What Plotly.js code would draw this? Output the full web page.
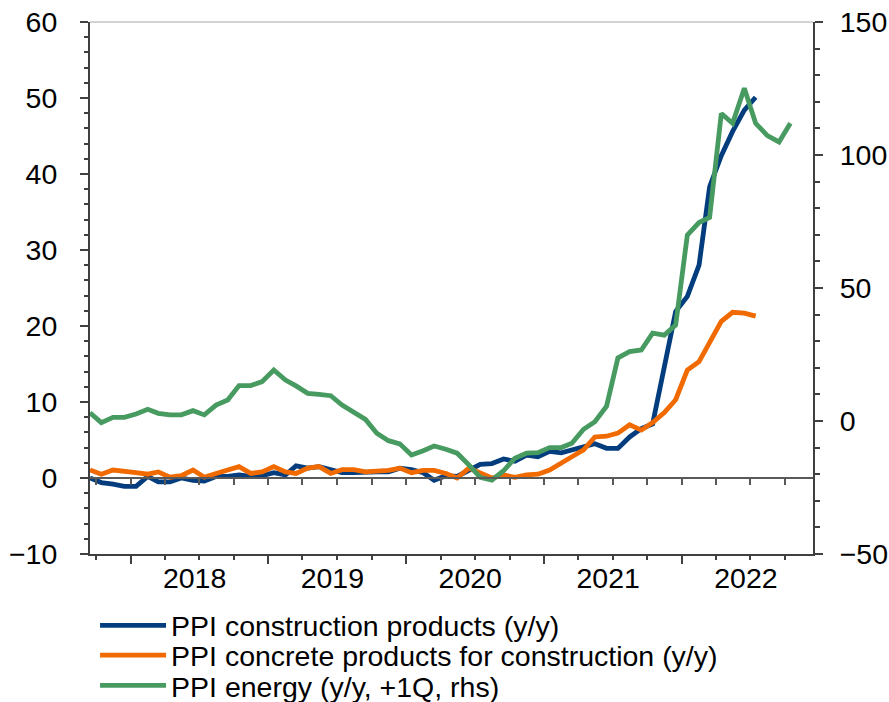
<!DOCTYPE html>
<html>
<head>
<meta charset="utf-8">
<script src="https://cdn.plot.ly/plotly-3.0.1.min.js"></script>
<style>html,body{margin:0;padding:0;background:#fff;}#chart{width:889px;height:702px;}</style>
</head>
<body>
<div id="chart"></div>
<script>
// Monthly observations (mid-month dates)
var months = [
 '2017-09-15','2017-10-15','2017-11-15','2017-12-15',
 '2018-01-15','2018-02-15','2018-03-15','2018-04-15','2018-05-15','2018-06-15','2018-07-15','2018-08-15','2018-09-15','2018-10-15','2018-11-15','2018-12-15',
 '2019-01-15','2019-02-15','2019-03-15','2019-04-15','2019-05-15','2019-06-15','2019-07-15','2019-08-15','2019-09-15','2019-10-15','2019-11-15','2019-12-15',
 '2020-01-15','2020-02-15','2020-03-15','2020-04-15','2020-05-15','2020-06-15','2020-07-15','2020-08-15','2020-09-15','2020-10-15','2020-11-15','2020-12-15',
 '2021-01-15','2021-02-15','2021-03-15','2021-04-15','2021-05-15','2021-06-15','2021-07-15','2021-08-15','2021-09-15','2021-10-15','2021-11-15','2021-12-15',
 '2022-01-15','2022-02-15','2022-03-15','2022-04-15','2022-05-15','2022-06-15','2022-07-15','2022-08-15','2022-09-15','2022-10-15'
];

// PPI construction products (y/y), lhs
var ppiConstruction = [
 0.0,-0.6,-0.8,-1.1,-1.1,0.2,-0.5,-0.5,0.0,-0.3,-0.4,0.2,
 0.2,0.4,0.2,0.3,0.7,0.4,1.6,1.3,1.5,1.1,0.7,0.7,
 0.8,0.8,0.8,1.3,1.1,0.7,-0.3,0.3,0.2,1.1,1.8,1.9,
 2.5,2.2,3.0,2.8,3.5,3.3,3.7,4.2,4.5,3.9,3.9,5.4,
 6.5,7.1,14.5,21.9,23.9,28.0,38.3,42.4,45.6,48.4,50.1
];

// PPI concrete products for construction (y/y), lhs
var ppiConcrete = [
 1.05,0.5,1.05,0.8,0.7,0.5,0.8,0.1,0.3,1.05,0.1,0.6,
 1.05,1.5,0.6,0.8,1.5,0.8,0.6,1.3,1.5,0.6,1.1,1.1,
 0.8,0.9,1.0,1.3,0.7,1.0,1.0,0.6,0.0,1.3,0.6,0.0,
 0.4,0.1,0.4,0.5,1.05,1.9,2.8,3.7,5.4,5.5,5.9,7.0,
 6.3,7.3,8.6,10.3,14.2,15.3,17.9,20.6,21.8,21.7,21.3
];

// PPI energy (y/y, +1Q), rhs
var ppiEnergy = [
 3.1,-0.6,1.4,1.4,2.6,4.4,2.9,2.3,2.3,3.9,2.3,6.0,
 7.9,13.3,13.3,14.8,19.2,15.4,13.2,10.4,10.0,9.5,6.0,3.5,
 0.6,-4.6,-7.4,-8.6,-12.8,-11.2,-9.4,-10.6,-12.1,-16.5,-21.2,-22.2,
 -18.7,-14.0,-12.1,-11.9,-10.0,-10.0,-8.4,-3.1,-0.3,5.6,23.7,26.1,
 26.7,33.0,32.3,36.1,69.9,74.6,76.5,115.6,111.9,125.1,111.9,107.3,
 104.9,111.9
];

var seriesNames = [
 'PPI construction products (y/y)',
 'PPI concrete products for construction (y/y)',
 'PPI energy (y/y, +1Q, rhs)'
];
var seriesColors = ['#033d7d', '#f06a00', '#479a60'];

var xRange = ['2017-09-15', '2022-12-14'];
var FONT = '"Liberation Sans", Arial, sans-serif';
var FS = 28.5;
var AX = '#404040';
var LW = 4.8;

var traces = [
 {x: months.slice(0, ppiConstruction.length), y: ppiConstruction, name: seriesNames[0], type: 'scatter', mode: 'lines',
  line: {color: seriesColors[0], width: LW}, xaxis: 'x', yaxis: 'y', legend: 'legend', hoverinfo: 'x+y'},
 {x: months.slice(0, ppiConcrete.length), y: ppiConcrete, name: seriesNames[1], type: 'scatter', mode: 'lines',
  line: {color: seriesColors[1], width: LW}, xaxis: 'x', yaxis: 'y', legend: 'legend2', hoverinfo: 'x+y'},
 {x: months.slice(0, ppiEnergy.length), y: ppiEnergy, name: seriesNames[2], type: 'scatter', mode: 'lines',
  line: {color: seriesColors[2], width: LW}, xaxis: 'x2', yaxis: 'y2', legend: 'legend3', hoverinfo: 'x+y'}
];

function legendAt(yPaper) {
  return {x: 0.007, xanchor: 'left', y: yPaper, yanchor: 'middle', orientation: 'v',
          bgcolor: 'rgba(0,0,0,0)', borderwidth: 0, itemwidth: 66,
          font: {family: FONT, size: FS, color: '#000'}};
}

var layout = {
  width: 889, height: 702,
  margin: {l: 90, r: 76, t: 22, b: 148, pad: 0, autoexpand: false},
  paper_bgcolor: '#fff', plot_bgcolor: '#fff',
  font: {family: FONT, size: FS, color: '#000'},
  showlegend: true,
  legend: legendAt(-0.135),
  legend2: legendAt(-0.191),
  legend3: legendAt(-0.248),
  xaxis: {
    type: 'date', range: xRange, anchor: 'y', automargin: false,
    showline: true, linecolor: AX, linewidth: 2,
    ticks: 'outside', ticklen: 8, tickwidth: 2, tickcolor: AX,
    tickmode: 'linear', tick0: '2018-01-01', dtick: 'M12', tickformat: '%Y',
    ticklabelmode: 'period', ticklabelshift: -5, ticklabelstandoff: -10,
    minor: {dtick: 'M3', tick0: '2018-01-01', ticks: 'outside', ticklen: 4, tickwidth: 2, tickcolor: AX, showgrid: false},
    showgrid: false, zeroline: false,
    tickfont: {family: FONT, size: FS, color: '#000'}
  },
  xaxis2: {
    type: 'date', range: xRange, overlaying: 'x', anchor: 'free', position: 10 / 70,
    showline: true, linecolor: '#595959', linewidth: 2,
    ticks: 'outside', ticklen: 6, tickwidth: 2, tickcolor: '#595959',
    tickmode: 'linear', tick0: '2018-01-01', dtick: 'M3',
    showticklabels: false, showgrid: false, zeroline: false
  },
  yaxis: {
    range: [-10, 60], tickmode: 'linear', tick0: 0, dtick: 10, automargin: false,
    showline: true, linecolor: AX, linewidth: 2,
    ticks: 'outside', ticklen: 8, tickwidth: 2, tickcolor: AX,
    minor: {dtick: 2, ticks: 'outside', ticklen: 4, tickwidth: 2, tickcolor: AX, showgrid: false},
    ticklabelstandoff: 17,
    showgrid: false, zeroline: false,
    tickfont: {family: FONT, size: FS, color: '#000'}
  },
  yaxis2: {
    range: [-50, 150], overlaying: 'y', side: 'right', anchor: 'x', automargin: false,
    tickmode: 'linear', tick0: 0, dtick: 50,
    showline: true, linecolor: AX, linewidth: 2,
    ticks: 'outside', ticklen: 8, tickwidth: 2, tickcolor: AX,
    minor: {dtick: 10, ticks: 'outside', ticklen: 5, tickwidth: 2, tickcolor: AX, showgrid: false},
    ticklabelstandoff: 11,
    showgrid: false, zeroline: false,
    tickfont: {family: FONT, size: FS, color: '#000'}
  },
  shapes: [
    {type: 'line', xref: 'paper', yref: 'paper', x0: 0, x1: 1, y0: 1, y1: 1, line: {color: '#a6a6a6', width: 1}}
  ]
};

Plotly.newPlot('chart', traces, layout, {displayModeBar: false, staticPlot: true});
</script>
</body>
</html>
